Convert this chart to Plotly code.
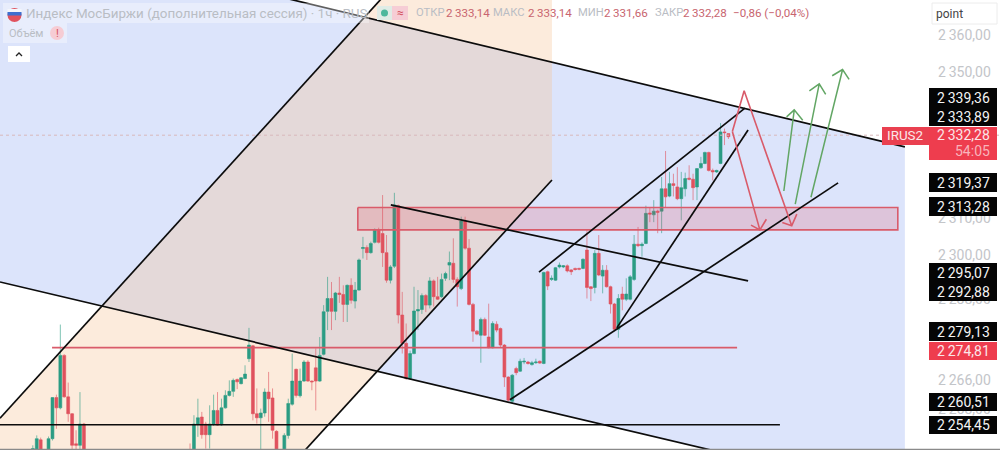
import plotly.graph_objects as go

# ---- candles: bar number and prices (bars 14..39 lie below the visible range) ----
bars = list(range(14)) + list(range(40, 178))
opens = [2244.6,2244.6,2249.7,2246,2245,2250.0,2261.2,2258.4,2272.7,2261.4,2256.8,2248.6,2248.2,2254.0,
 2246,2244.6,2254,2255.9,2254,2251.1,2254,2257.7,2253.8,2258.4,
 2261.8,2262.9,2266.1,2265,2266.4,2271.8,2275.3,2256.8,2255.7,2257,
 2262.7,2261.1,2252,2245,2244.6,2250.9,2259.4,2268.9,2261.7,2265.7,
 2270.9,2265.7,2269.3,2265.7,2273,2284.7,2288.2,2284.7,2289.7,2289.3,
 2286.6,2291.8,2287.5,2290.5,2301.8,2302.1,2300.7,2303.5,2307,2305.9,
 2300.7,2293.2,2297,2313.5,2283.7,2276,2266.4,2273.2,2284.8,2285.2,
 2289,2286.4,2293,2288.7,2288.7,2293.7,2297.3,2297.8,2293.4,2290.9,
 2309.3,2301.9,2286.6,2279.3,2278.2,2282.5,2277.7,2274.8,2281.2,2280,
 2275.5,2266.8,2260.2,2269.1,2268.4,2270.9,2270.9,2270.2,2270.7,2271.1,
 2270.5,2295.5,2293.4,2293.2,2296.8,2296.8,2297.1,2296,2296.4,2296.4,
 2296.4,2301.4,2291.4,2291.2,2300.5,2294.3,2295.9,2291.4,2286.7,2279.8,
 2289.4,2288,2288,2293.4,2303,2302.6,2303.2,2311.5,2311,2312,
 2312,2318.1,2316.1,2319.5,2318.6,2315.4,2318.1,2321,2320.7,2318.6,
 2323.8,2325,2328,2323.1,2322.7,2325,2333.6,2333.14]
highs = [2248.2,2250.9,2250.3,2246.5,2250.6,2261.3,2262,2281.1,2273,2265.3,2257,2252.3,2262.7,2254.3,
 2248.7,2256.4,2260.9,2257.3,2254.6,2259.1,2262,2262.7,2260.9,2263.2,
 2265.9,2266.4,2266.4,2266.8,2270,2280.2,2275.5,2263.7,2258.2,2263.7,
 2268.2,2263.7,2252.3,2246,2251.5,2260.9,2273.2,2269.1,2269.1,2271.4,
 2271.4,2265.9,2274.6,2277.7,2286.4,2294.1,2292.7,2290,2294.1,2291.8,
 2292,2293.7,2292.7,2299.1,2305,2302.7,2303.7,2307.3,2307.5,2316.4,
 2305.5,2297.3,2317,2313.8,2290,2281.4,2274,2291.4,2290.5,2289.6,
 2289.4,2294,2293.4,2294.1,2295,2295.5,2301,2304.6,2294,2310.5,
 2310.5,2304.4,2287,2279.6,2283,2283,2286.8,2282,2282,2280.3,
 2275.8,2267,2267.6,2269.6,2271.8,2272,2271.2,2271.2,2271.8,2271.3,
 2295.5,2295.8,2294.5,2296.8,2298,2297.3,2297.5,2296.2,2296.6,2296.6,
 2299.1,2306.8,2291.6,2301.4,2305.5,2297.3,2297.3,2291.7,2287,2289.4,
 2291.4,2293.7,2294.6,2305.5,2307.7,2303.5,2313.5,2313.1,2315,2312.4,
 2321.3,2328.4,2322.7,2322.2,2324,2322.7,2322.5,2324.5,2322.2,2323.7,
 2326.8,2328.2,2328.2,2323.6,2323.3,2336,2334.5,2333.14]
lows = [2243,2243,2243,2243,2243,2249.5,2252.7,2258,2261.2,2254.6,2245,2246,2246,2243,
 2244,2243,2250.5,2250,2247.3,2247.3,2253.5,2253.5,2253.5,2258.2,
 2261.5,2261.4,2263.5,2264.8,2266.2,2270.9,2255,2254.1,2246.8,2256,
 2254.6,2250,2243,2243,2243,2250,2259,2261.2,2261.2,2265.5,
 2265.5,2263.2,2257.7,2265.5,2272.7,2279.6,2279.6,2282.3,2287,2281.8,
 2281.8,2286.8,2285.5,2290.3,2299.1,2298.7,2300.4,2303.2,2303.2,2296.8,
 2292.5,2292.3,2296.5,2281.4,2273.2,2266,2266,2273,2279.6,2284,
 2284.5,2285.5,2286,2287.8,2288.4,2293,2293.2,2292.5,2286,2290.5,
 2301.5,2286.3,2276.4,2278.2,2270.7,2278,2274.6,2274.6,2279,2275,
 2264.1,2260.2,2259.6,2267.3,2268.2,2270.3,2270.2,2269.9,2270.4,2270.4,
 2270.3,2290.5,2293,2293,2296.4,2296.5,2295.3,2294.6,2295.8,2295.9,
 2296.2,2288.2,2287.5,2289.6,2294.3,2289.6,2291.2,2284.1,2279.4,2277.5,
 2285,2287.5,2287.7,2293,2302.2,2299.6,2303,2309,2309,2306,
 2306,2313.1,2315.8,2316,2315,2309.5,2316,2320.4,2315,2315,
 2323.6,2324.8,2322.8,2320.4,2322.4,2324.8,2330,2331.66]
closes = [2247.3,2250,2244.6,2244,2250,2261.2,2258.4,2272.7,2261.4,2256.8,2248.2,2248.2,2254,2244.6,
 2245,2254,2255.7,2251.1,2251.1,2254,2257.7,2253.7,2258.4,2261.8,
 2262.9,2265.9,2265.5,2266.6,2267.6,2275.5,2256.8,2255.7,2257,2262.7,
 2260.9,2252.3,2244.6,2244,2250.9,2259.6,2265.7,2261.8,2265.7,2270.9,
 2265.7,2265.5,2265.7,2272.7,2284.6,2288.2,2284.7,2289.7,2289.3,2286.6,
 2291.8,2287.7,2290.5,2298.7,2302.1,2300.7,2303.2,2306.8,2303.5,2300.7,
 2293.2,2296.8,2313.7,2283.7,2276,2266.4,2273.2,2284.8,2285.2,2289,
 2286.4,2293,2288.7,2288,2293.4,2295,2298,2293.4,2291.4,2309.3,
 2301.9,2286.6,2279.3,2278.5,2282.5,2278.2,2274.8,2281.4,2279.6,2275.5,
 2266.8,2260.5,2267.3,2268,2271.1,2271.1,2270.5,2270.7,2270.9,2270.6,
 2295.3,2291.6,2293.7,2296.6,2297.3,2297.1,2295.7,2295.5,2296.1,2296.2,
 2298.9,2291.2,2290.9,2300.5,2294.6,2295.9,2291.4,2286.7,2279.8,2288.2,
 2288,2289.4,2294.1,2303,2302.6,2303,2311.4,2311.2,2312,2311.7,
 2318.1,2315.9,2319.5,2319,2315.4,2318.4,2320.9,2320.7,2318.4,2323.6,
 2325,2328,2323.1,2322.7,2323.1,2333.6,2333.4,2332.28]
assert len(bars) == len(opens) == len(highs) == len(lows) == len(closes)

# ---- axis ----
x_range = [-8.35, 246.1]
y_range = [2246.92, 2369.54]
tick_values = [2360, 2350, 2310, 2300, 2288, 2266, 2258]
tick_labels = ["2\u2009360,00", "2\u2009350,00", "2\u2009310,00", "2\u2009300,00", "2\u2009288,00", "2\u2009266,00", "2\u2009258,00"]
current_price = 2332.7

# ---- trader's drawings, anchored in (bar, price) ----
blue_x = [-8.35, 221.9, 221.9, -8.35]
blue_y = [2388.6, 2329.5, 2234.5, 2292.7]
orange_x = [-15.7, 88.6, 132.1, 132.1, 69.3]
orange_y = [2246.9, 2369.8, 2369.8, 2320.5, 2246.9]
zone_x = [82.7, 220.1, 220.1, 82.7, 82.7]
zone_y = [2313.0, 2313.0, 2306.9, 2306.9, 2313.0]

black_lines = {
    "upper_fall": ([62.9, 221.9], [2370.4, 2329.5]),
    "lower_fall": ([-8.35, 172.6], [2292.7, 2246.9]),
    "left_rise": ([-8.35, 88.6], [2255.6, 2369.8]),
    "right_rise": ([69.3, 132.1], [2246.9, 2320.5]),
    "mid_fall": ([91.1, 182.0], [2313.7, 2293.0]),
    "wedge_top": ([128.8, 181.2], [2295.4, 2340.1]),
    "wedge_steep": ([148.6, 182.0], [2280.2, 2334.1]),
    "wedge_base": ([121.4, 204.9], [2260.6, 2319.7]),
    "level_low": ([-8.35, 190.1], [2253.8, 2253.8]),
}
red_level_x = [4.9, 179.2]
red_level_y = [2274.81, 2274.81]

red_arrows = [
    ([178.0, 185.0, 182.75, 185.0, 186.65], [2333.7, 2306.9, 2308.2, 2306.9, 2309.8]),
    ([178.0, 181.0, 193.1, 190.7, 193.1, 194.4], [2333.7, 2344.8, 2308.0, 2308.9, 2308.0, 2311.2]),
]
green_arrows = [
    ([191.1, 193.75, 191.8, 193.75, 195.9], [2317.5, 2339.6, 2337.7, 2339.6, 2336.8]),
    ([194.0, 200.1, 197.6, 200.1, 201.75], [2313.9, 2346.7, 2344.8, 2346.7, 2343.8]),
    ([198.0, 206.05, 203.4, 206.05, 207.7], [2315.8, 2350.6, 2348.9, 2350.6, 2347.9]),
]

# ---- price tags: text, box edges on the page ----
tag_texts = ["2\u2009339,36", "2\u2009333,89", "2\u2009319,37", "2\u2009313,28", "2\u2009295,07",
             "2\u2009292,88", "2\u2009279,13", "2\u2009260,51", "2\u2009254,45"]
tag_tops = [88, 107, 173, 197, 263, 282, 322, 393, 416]
tag_bottoms = [107, 126, 192, 216, 282, 301, 341, 411, 434]

W, H = 1000, 450
def pxx(v): return v / W
def pxy(v): return 1 - v / H

RED = "#e0525e"
RED_WICK = "rgba(224,82,94,0.6)"
GREEN = "#2b9c84"
GREEN_WICK = "rgba(43,156,132,0.6)"
DRAW_RED = "#d95b6a"
DRAW_GREEN = "#62a664"
GREY_TEXT = "#b9bdc4"
VALUE_RED = "#c8656f"
FONT = "Roboto"

def polygon(xs, ys):
    return "M " + " L ".join(f"{a} {b}" for a, b in zip(xs, ys)) + " Z"

shapes, notes = [], []
shapes.append(dict(type="path", xref="x", yref="y", layer="below", path=polygon(blue_x, blue_y),
                   fillcolor="#dce4fb", line=dict(width=0)))
shapes.append(dict(type="path", xref="x", yref="y", layer="below", path=polygon(orange_x, orange_y),
                   fillcolor="rgba(245,195,150,0.33)", line=dict(width=0)))

fig = go.Figure()
fig.add_trace(go.Candlestick(
    x=bars, open=opens, high=highs, low=lows, close=closes, whiskerwidth=0,
    increasing=dict(line=dict(color=GREEN_WICK, width=1), fillcolor=GREEN),
    decreasing=dict(line=dict(color=RED_WICK, width=1), fillcolor=RED),
))
fig.add_trace(go.Scatter(x=x_range, y=[current_price] * 2, mode="lines",
                         line=dict(color="#d8b8bc", width=1, dash="dot"), hoverinfo="skip"))
fig.add_trace(go.Scatter(x=zone_x, y=zone_y, fill="toself", mode="lines", fillcolor="rgba(226,70,90,0.2)",
                         line=dict(color=DRAW_RED, width=1.6), hoverinfo="skip"))
fig.add_trace(go.Scatter(x=red_level_x, y=red_level_y, mode="lines", line=dict(color=DRAW_RED, width=1.6), hoverinfo="skip"))
for name, (lx, ly) in black_lines.items():
    fig.add_trace(go.Scatter(x=lx, y=ly, mode="lines", name=name, line=dict(color="#0c0c0c", width=1.7), hoverinfo="skip"))
for ax, ay in red_arrows:
    fig.add_trace(go.Scatter(x=ax, y=ay, mode="lines", line=dict(color=DRAW_RED, width=1.6), hoverinfo="skip"))
for ax, ay in green_arrows:
    fig.add_trace(go.Scatter(x=ax, y=ay, mode="lines", line=dict(color=DRAW_GREEN, width=1.5), hoverinfo="skip"))

def box(x0, y0, x1, y1, fill, line=None):
    shapes.append(dict(type="rect", xref="paper", yref="paper", x0=pxx(x0), x1=pxx(x1), y0=pxy(y1), y1=pxy(y0),
                       fillcolor=fill, line=dict(color=line or "rgba(0,0,0,0)", width=1 if line else 0)))
def disc(cx, cy, r, fill):
    shapes.append(dict(type="circle", xref="paper", yref="paper", x0=pxx(cx - r), x1=pxx(cx + r), y0=pxy(cy + r), y1=pxy(cy - r),
                       fillcolor=fill, line=dict(width=0)))
def label(x, y, text, size, color, anchor="left"):
    notes.append(dict(xref="paper", yref="paper", x=pxx(x), y=pxy(y), text=text, showarrow=False, xanchor=anchor,
                      yanchor="middle", font=dict(family=FONT, size=size, color=color), borderpad=0))

# legend backdrops
box(3, 3, 369, 23, "rgba(255,255,255,0.35)")
box(3, 23, 67, 43, "rgba(255,255,255,0.35)")
box(8, 46, 30, 62, "#ffffff")
shapes.append(dict(type="path", xref="paper", yref="paper", line=dict(color="#222222", width=1.3),
                   path=f"M {pxx(16)} {pxy(56)} L {pxx(19)} {pxy(53)} L {pxx(22)} {pxy(56)}"))
# flag
disc(14.5, 15, 7, "#e0525e")
shapes.append(dict(type="path", xref="paper", yref="paper", fillcolor="#3d6fd0", line=dict(width=0),
                   path=f"M {pxx(7.5)} {pxy(15.5)} L {pxx(21.5)} {pxy(15.5)} L {pxx(21.5)} {pxy(12)} L {pxx(7.5)} {pxy(12)} Z"))
shapes.append(dict(type="path", xref="paper", yref="paper", fillcolor="#f4f6fc", line=dict(width=0),
                   path=f"M {pxx(7.5)} {pxy(12)} L {pxx(21.5)} {pxy(12)} L {pxx(21.5)} {pxy(9)} L {pxx(7.5)} {pxy(9)} Z"))
label(25, 14, "Индекс МосБиржи (дополнительная сессия) · 1ч · RUS", 13.4, GREY_TEXT)
box(377, 6, 392, 20, "#e0ece6")
box(392, 6, 408, 20, "#f6cdd5")
disc(384.5, 13, 3.5, "#4db89d")
label(400, 13, "≈", 12, "#d4525f", "center")
label(415, 13, "ОТКР", 11.2, GREY_TEXT)
label(445, 13, "2\u2009333,14", 11.6, VALUE_RED)
label(492, 13, "МАКС", 11.2, GREY_TEXT)
label(527, 13, "2\u2009333,14", 11.6, VALUE_RED)
label(577, 13, "МИН", 11.2, GREY_TEXT)
label(603, 13, "2\u2009331,66", 11.6, VALUE_RED)
label(654, 13, "ЗАКР", 11.2, GREY_TEXT)
label(682, 13, "2\u2009332,28", 11.6, VALUE_RED)
label(732, 13, "−0,86 (−0,04%)", 11.6, VALUE_RED)
label(8, 33, "Объём", 11, GREY_TEXT)
disc(57, 33, 7, "#f6ccd4")
label(57, 33, "!", 11, "#d4525f", "center")

# "point" box
box(932, 3, 997, 24, "#ffffff", "#ececec")
label(935, 14, "point", 12, "#444444")

# tags
for text, top, bottom in zip(tag_texts, tag_tops, tag_bottoms):
    box(929, top, 997, bottom, "#050505")
    label(991, (top + bottom) / 2, text, 14, "#f4f4f4", "right")
box(882, 127, 929, 145, "#ea4050")
label(905.5, 136, "IRUS2", 13.4, "#fbe6e8", "center")
box(929, 127, 997, 160, "#ee3d4e")
label(991, 135, "2\u2009332,28", 14, "#fbe6e8", "right")
label(991, 151, "54:05", 14, "#f8b4bb", "right")
box(929, 342, 997, 360, "#ee3d4e")
label(991, 351, "2\u2009274,81", 14, "#fbe6e8", "right")

# bottom edge of the screenshot
box(0, 448.8, 1000, 450, "#8a8a8a")

fig.update_layout(
    width=W, height=H, margin=dict(l=0, r=0, t=0, b=0, pad=0), showlegend=False,
    paper_bgcolor="#ffffff", plot_bgcolor="#ffffff", shapes=shapes, annotations=notes,
    font=dict(family=FONT), boxgap=0.18, boxgroupgap=0.1,
    xaxis=dict(range=x_range, visible=False, rangeslider=dict(visible=False), fixedrange=True),
    yaxis=dict(range=y_range, side="right", showgrid=False, zeroline=False, showline=False, fixedrange=True,
               automargin=False, tickmode="array", tickvals=tick_values, ticktext=tick_labels,
               ticklabelposition="inside", ticks="inside", ticklen=9, tickcolor="rgba(0,0,0,0)",
               tickfont=dict(family=FONT, size=14, color="#c3c5c9")),
)
fig.write_html("out.html", config=dict(displayModeBar=False),
               post_script="document.body.style.margin='0';document.documentElement.style.overflow='hidden';")
